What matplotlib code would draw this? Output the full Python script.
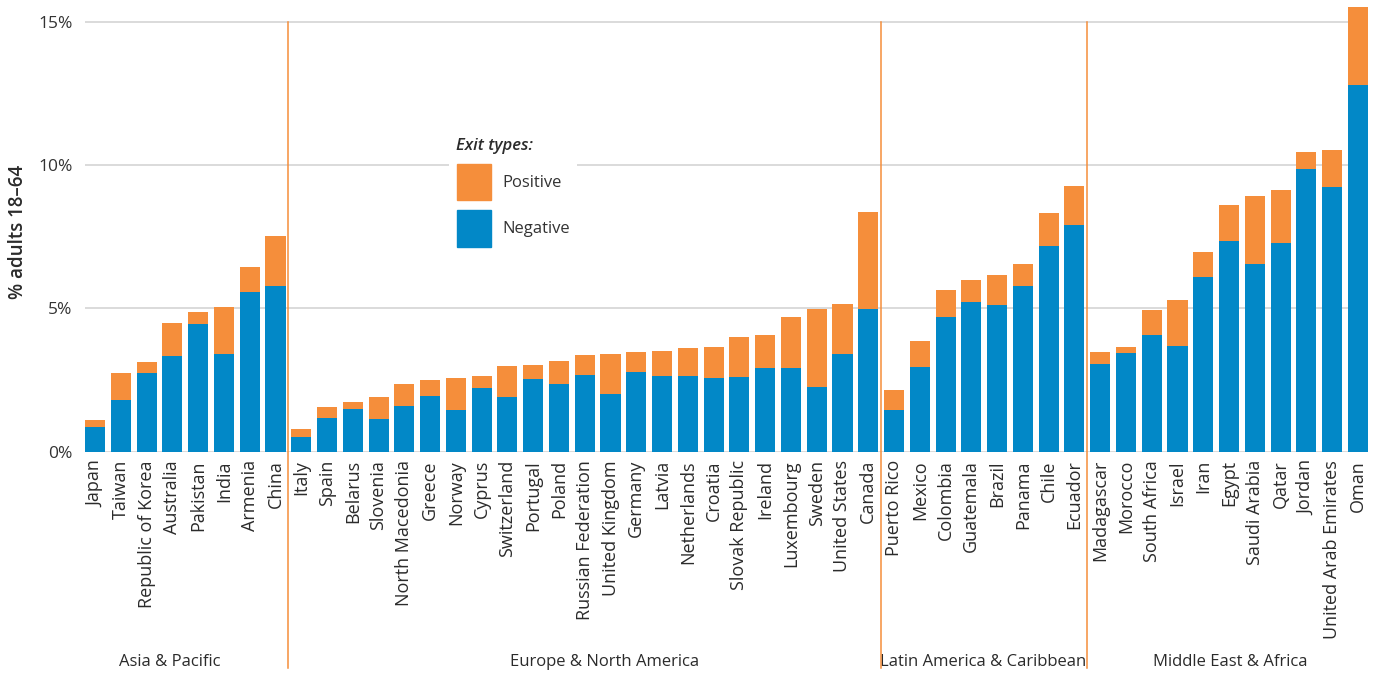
import matplotlib
matplotlib.use("Agg")
import matplotlib.pyplot as plt
from matplotlib.patches import Patch
import numpy as np

# ── Data (share of adults 18-64 exiting a business, %) ──────────────────
regions = ["Asia & Pacific", "Europe & North America",
           "Latin America & Caribbean", "Middle East & Africa"]

asia = ["Japan", "Taiwan", "Republic of Korea", "Australia", "Pakistan",
        "India", "Armenia", "China"]
asia_neg = [0.86, 1.81, 2.74, 3.34, 4.45, 3.41, 5.57, 5.78]
asia_pos = [0.24, 0.93, 0.39, 1.15, 0.42, 1.64, 0.87, 1.74]

europe = ["Italy", "Spain", "Belarus", "Slovenia", "North Macedonia", "Greece",
          "Norway", "Cyprus", "Switzerland", "Portugal", "Poland",
          "Russian Federation", "United Kingdom", "Germany", "Latvia",
          "Netherlands", "Croatia", "Slovak Republic", "Ireland",
          "Luxembourg", "Sweden", "United States", "Canada"]
europe_neg = [0.51, 1.17, 1.49, 1.14, 1.59, 1.94, 1.45, 2.22, 1.91, 2.53, 2.36,
              2.67, 2.01, 2.78, 2.64, 2.64, 2.57, 2.60, 2.92, 2.92, 2.26,
              3.41, 4.98]
europe_pos = [0.28, 0.39, 0.24, 0.77, 0.77, 0.56, 1.12, 0.42, 1.08, 0.49, 0.80,
              0.70, 1.40, 0.70, 0.87, 0.98, 1.08, 1.40, 1.15, 1.78, 2.72,
              1.74, 3.38]

latam = ["Puerto Rico", "Mexico", "Colombia", "Guatemala", "Brazil", "Panama",
         "Chile", "Ecuador"]
latam_neg = [1.45, 2.95, 4.70, 5.22, 5.12, 5.78, 7.17, 7.91]
latam_pos = [0.70, 0.91, 0.94, 0.77, 1.04, 0.77, 1.16, 1.36]

mea = ["Madagascar", "Morocco", "South Africa", "Israel", "Iran", "Egypt",
       "Saudi Arabia", "Qatar", "Jordan", "United Arab Emirates", "Oman"]
mea_neg = [3.06, 3.44, 4.07, 3.69, 6.09, 7.35, 6.55, 7.28, 9.86, 9.23, 12.79]
mea_pos = [0.42, 0.21, 0.87, 1.60, 0.88, 1.25, 2.37, 1.85, 0.59, 1.29, 2.72]

# where each region caption sits (bar-index units)
region_label_x = [2.9, 19.75, 34.45, 44.05]

BLUE = "#0288C7"
ORANGE = "#F58E3B"
GRID = "#D4D4D4"
TEXT = "#2B2B2B"

plt.rcParams["font.family"] = ["Open Sans", "DejaVu Sans"]

groups = [asia, europe, latam, mea]
countries = asia + europe + latam + mea
neg = np.array(asia_neg + europe_neg + latam_neg + mea_neg)
pos = np.array(asia_pos + europe_pos + latam_pos + mea_pos)
x = np.arange(len(countries))
width = 0.78

fig = plt.figure(figsize=(13.79, 6.75), dpi=100)
ax = fig.add_axes([85 / 1379, 0.3308, 1283 / 1379, 0.6627])

ax.bar(x, neg, width=width, color=BLUE, label="Negative", zorder=3)
ax.bar(x, pos, width=width, bottom=neg, color=ORANGE, label="Positive",
       zorder=3)

ax.set_xlim(-width / 2, len(countries) - 1 + width / 2)
ax.set_ylim(0, 15.6)
ax.set_yticks([0, 5, 10, 15])
ax.set_yticklabels(["0%", "5%", "10%", "15%"])
for yv in [0, 5, 10, 15]:
    ax.axhline(yv, color=GRID, linewidth=1.2, zorder=1)

ax.set_xticks(x)
ax.set_xticklabels(countries, rotation=90, va="top", ha="center")
ax.tick_params(axis="x", length=0, pad=6, labelsize=13, labelcolor=TEXT)
ax.tick_params(axis="y", length=0, pad=9, labelsize=12.5, labelcolor="#333333")
for s in ax.spines.values():
    s.set_visible(False)

# region separators + captions
trans = ax.get_xaxis_transform()
bounds = np.cumsum([len(g) for g in groups])[:-1] - 0.5
for b in bounds:
    ax.plot([b, b], [-0.4835, 15 / 15.6], color=ORANGE, linewidth=1.1,
            transform=trans, clip_on=False, zorder=4)
for name, rx in zip(regions, region_label_x):
    ax.text(rx, -0.470, name, transform=trans, ha="center", va="center",
            fontsize=12, color=TEXT)

fig.text(18 / 1379, 1 - 232 / 675, "% adults 18\u201364", rotation=90,
         ha="center", va="center", fontsize=13.5, fontweight="semibold",
         color=TEXT)

handles = [Patch(color=ORANGE, label="Positive"),
           Patch(color=BLUE, label="Negative")]
leg = ax.legend(handles=handles, title="Exit types:", loc="upper left",
                bbox_to_anchor=(449 / 1379, 1 - 130 / 675),
                bbox_transform=fig.transFigure, frameon=True, fontsize=12,
                handlelength=2.05, handleheight=3.0, labelspacing=0.6,
                handletextpad=0.7, borderpad=0.45, borderaxespad=0,
                alignment="left",
                title_fontproperties={"style": "italic", "weight": "semibold",
                                      "size": 12})
leg.get_frame().set_facecolor("white")
leg.get_frame().set_edgecolor("none")
leg.get_frame().set_alpha(1)
leg.set_zorder(5)
for t in leg.get_texts():
    t.set_color("#333333")
leg.get_title().set_color(TEXT)

fig.savefig("out.png", dpi=100)
